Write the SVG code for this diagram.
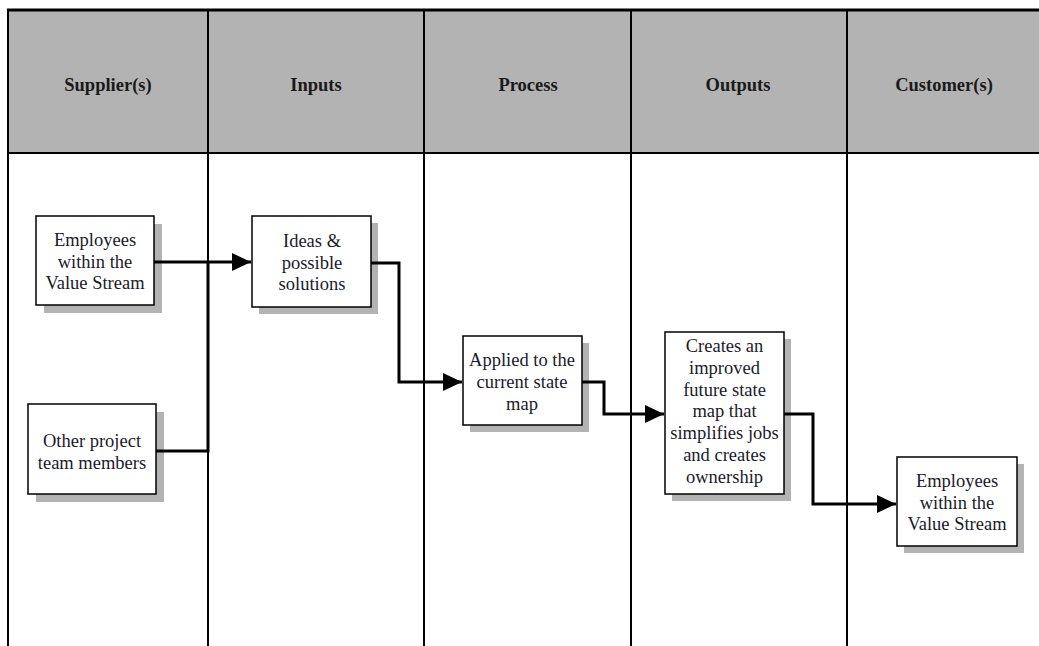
<svg xmlns="http://www.w3.org/2000/svg" width="1039" height="646" viewBox="0 0 1039 646">
<style>
.hdr{font-family:"Liberation Serif","Times New Roman",serif;font-weight:bold;font-size:18.5px;fill:#1a1a1a;text-anchor:middle}
.t{font-family:"Liberation Serif","Times New Roman",serif;font-size:18.5px;fill:#1a1a2a;text-anchor:middle}
.box{fill:#fff;stroke:#000;stroke-width:1.5}
.sh{fill:#b3b3b3}
.grid{stroke:#000;stroke-width:2;fill:none}
.conn{stroke:#000;stroke-width:3;fill:none;stroke-linejoin:miter}
</style>
<defs>
<marker id="arr" markerWidth="19" markerHeight="18" refX="19" refY="9" orient="auto" markerUnits="userSpaceOnUse">
<path d="M0,0 L19,9 L0,18 Z" fill="#000"/>
</marker>
</defs>
<rect width="1039" height="646" fill="#fff"/>
<g id="table">
<rect x="8" y="10" width="1031" height="143" fill="#b3b3b3"/>
<line x1="7" y1="10" x2="1039" y2="10" stroke="#000" stroke-width="3"/>
<line x1="8" y1="153" x2="1039" y2="153" class="grid"/>
<line x1="8" y1="9" x2="8" y2="646" class="grid"/>
<line x1="208" y1="9" x2="208" y2="646" class="grid"/>
<line x1="424" y1="9" x2="424" y2="646" class="grid"/>
<line x1="631" y1="9" x2="631" y2="646" class="grid"/>
<line x1="847" y1="9" x2="847" y2="646" class="grid"/>
<text class="hdr" x="108" y="91">Supplier(s)</text>
<text class="hdr" x="316" y="91">Inputs</text>
<text class="hdr" x="528" y="91">Process</text>
<text class="hdr" x="738" y="91">Outputs</text>
<text class="hdr" x="944" y="91">Customer(s)</text>
</g>
<g id="n1">
<rect class="sh" x="44" y="224" width="118" height="89"/>
<rect class="box" x="36" y="216" width="118" height="89"/>
<text class="t" x="95" y="246">Employees<tspan x="95" dy="21.5">within the</tspan><tspan x="95" dy="21.5">Value Stream</tspan></text>
</g>
<g id="n2">
<rect class="sh" x="36" y="412" width="128" height="90"/>
<rect class="box" x="28" y="404" width="128" height="90"/>
<text class="t" x="92" y="447">Other project<tspan x="92" dy="21.5">team members</tspan></text>
</g>
<g id="n3">
<rect class="sh" x="259" y="223" width="119" height="91"/>
<rect class="box" x="252" y="216" width="119" height="91"/>
<text class="t" x="312" y="247">Ideas &amp;<tspan x="312" dy="21.5">possible</tspan><tspan x="312" dy="21.5">solutions</tspan></text>
</g>
<g id="n4">
<rect class="sh" x="470" y="343" width="119" height="89"/>
<rect class="box" x="463" y="336" width="119" height="89"/>
<text class="t" x="522" y="366">Applied to the<tspan x="522" dy="22">current state</tspan><tspan x="522" dy="22">map</tspan></text>
</g>
<g id="n5">
<rect class="sh" x="672" y="339" width="119" height="162"/>
<rect class="box" x="665" y="332" width="119" height="162"/>
<text class="t" x="724.5" y="352">Creates an<tspan x="724.5" dy="21.8">improved</tspan><tspan x="724.5" dy="21.8">future state</tspan><tspan x="724.5" dy="21.8">map that</tspan><tspan x="724.5" dy="21.8">simplifies jobs</tspan><tspan x="724.5" dy="21.8">and creates</tspan><tspan x="724.5" dy="21.8">ownership</tspan></text>
</g>
<g id="n6">
<rect class="sh" x="904" y="464" width="120" height="89"/>
<rect class="box" x="897" y="457" width="120" height="89"/>
<text class="t" x="957" y="487">Employees<tspan x="957" dy="21.5">within the</tspan><tspan x="957" dy="21.5">Value Stream</tspan></text>
</g>
<g id="connectors">
<path class="conn" d="M154,262 H251" marker-end="url(#arr)"/>
<path class="conn" d="M156,451 H208 V262"/>
<path class="conn" d="M371,263 H399 V382 H462" marker-end="url(#arr)"/>
<path class="conn" d="M582,382 H604 V414 H664" marker-end="url(#arr)"/>
<path class="conn" d="M784,414 H813 V504 H896" marker-end="url(#arr)"/>
</g>
</svg>
